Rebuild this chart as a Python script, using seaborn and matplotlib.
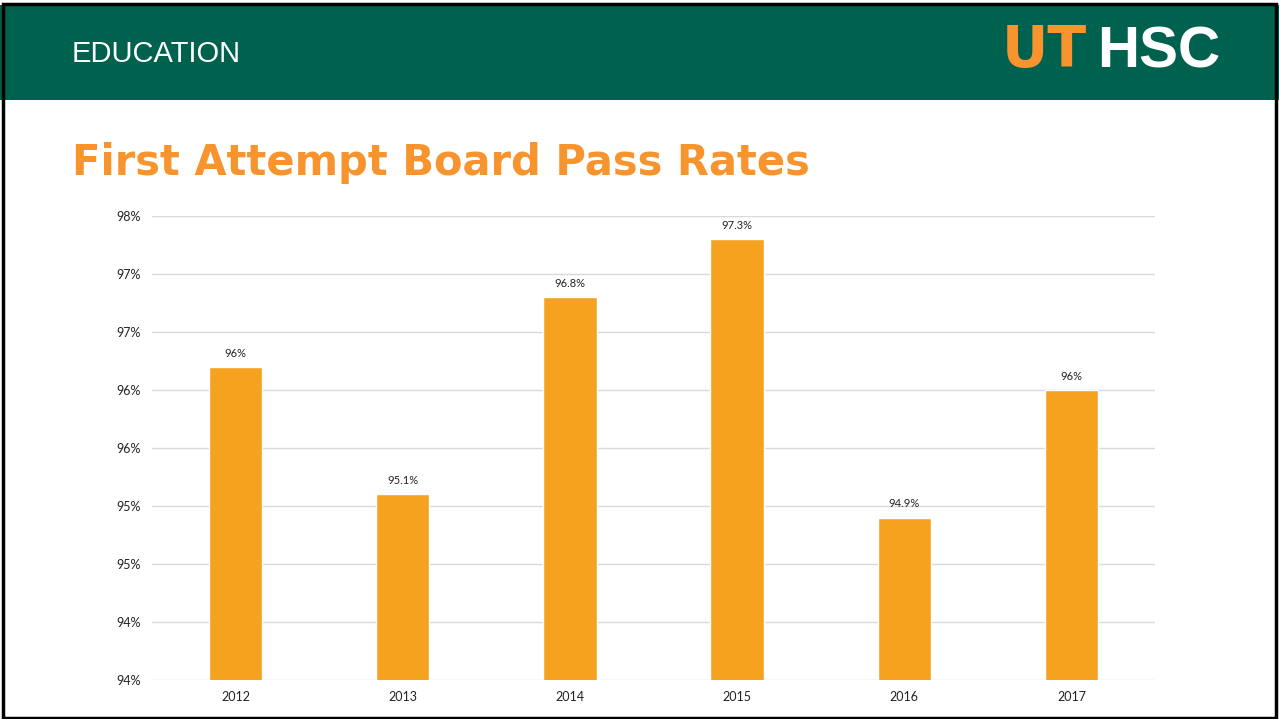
import matplotlib
matplotlib.use('Agg')
import matplotlib.pyplot as plt
import seaborn as sns
import pandas as pd
from matplotlib.patches import Rectangle

# chart values
years = ['2012', '2013', '2014', '2015', '2016', '2017']
pass_rates = [96.2, 95.1, 96.8, 97.3, 94.9, 96.0]
bar_labels = ['96%', '95.1%', '96.8%', '97.3%', '94.9%', '96%']
y_ticks = [93.5, 94.0, 94.5, 95.0, 95.5, 96.0, 96.5, 97.0, 97.5]
y_tick_labels = ['94%', '94%', '95%', '95%', '96%', '96%', '97%', '97%', '98%']

df = pd.DataFrame({'Year': years, 'Rate': pass_rates})

sns.set_style('white')
plt.rcParams['font.family'] = ['Lato', 'DejaVu Sans']

GREEN = '#00624E'
ORANGE = '#F7942E'
BAR = '#F5A31F'

fig = plt.figure(figsize=(12.79, 7.19), dpi=100)

# slide header and frame
fig.patches.append(Rectangle((0, 1 - 100 / 719), 1, 95 / 719, transform=fig.transFigure,
                             facecolor=GREEN, edgecolor='none', zorder=0))
fig.patches.append(Rectangle((0.002, 0.002), 0.996, 0.993, transform=fig.transFigure,
                             facecolor='none', edgecolor='black', linewidth=2.5, zorder=5))
fig.text(72 / 1279, 1 - 54 / 719, 'EDUCATION', color='white', fontsize=21,
         family='Liberation Sans', va='center', ha='left')
fig.text(1087 / 1279, 1 - 52 / 719, 'UT', color=ORANGE, fontsize=41, fontweight='heavy',
         family='DejaVu Sans', va='center', ha='right')
fig.text(1220 / 1279, 1 - 52 / 719, 'HSC', color='white', fontsize=42, fontweight='heavy',
         family='Liberation Sans', va='center', ha='right')
fig.text(72 / 1279, 1 - 163 / 719, 'First Attempt Board Pass Rates', color=ORANGE,
         fontsize=30, fontweight='bold', family='DejaVu Sans', va='center', ha='left')

ax = fig.add_axes([152 / 1279, 39 / 719, 1003 / 1279, 464 / 719])
sns.barplot(data=df, x='Year', y='Rate', color=BAR, width=0.32, saturation=1, ax=ax, zorder=3)

ax.set_ylim(93.5, 97.5)
ax.set_yticks(y_ticks)
ax.set_yticklabels(y_tick_labels)
ax.set_xlim(-0.5, len(years) - 0.5)
ax.grid(axis='y', color='#D9D9D9', linewidth=1, zorder=0)
ax.set_axisbelow(True)
for s in ax.spines.values():
    s.set_visible(False)
ax.tick_params(axis='both', length=0, labelsize=9, colors='#222222', pad=8)
ax.set_xlabel('')
ax.set_ylabel('')

for i, (v, lab) in enumerate(zip(pass_rates, bar_labels)):
    ax.text(i, v + 0.07, lab, ha='center', va='bottom', fontsize=8, color='#222222')

fig.savefig('out.png', dpi=100)
